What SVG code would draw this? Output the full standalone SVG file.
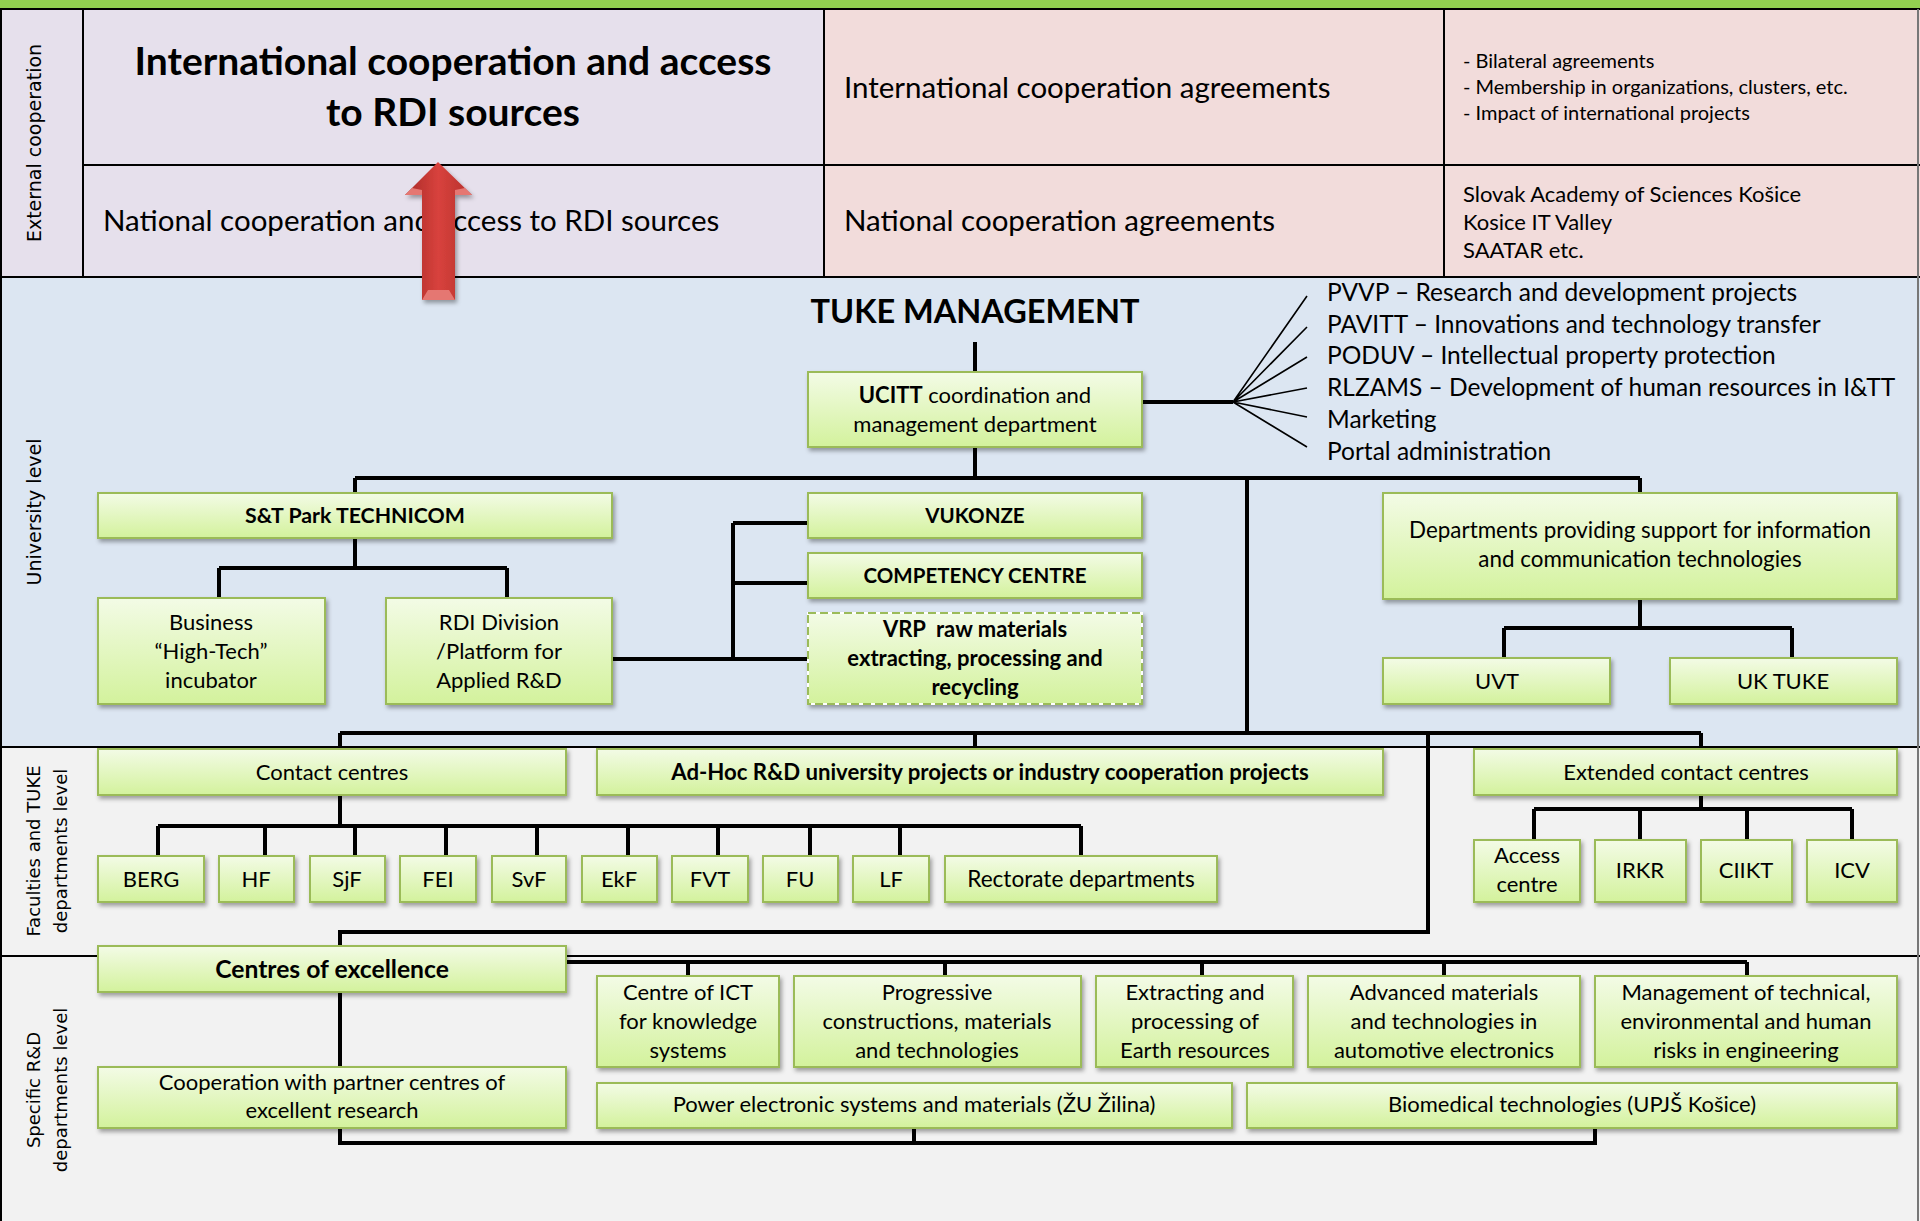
<svg xmlns="http://www.w3.org/2000/svg" width="1920" height="1221" viewBox="0 0 1920 1221">
<defs>
<style>
.t{font-family:Lato,"Open Sans","Liberation Sans",sans-serif;fill:#000}
.b{font-weight:bold}
.m{text-anchor:middle}
.r{font-size:22px}
.lab{font-family:"DejaVu Sans",Verdana,sans-serif;font-size:19px;text-anchor:middle;fill:#000}
.lab2{font-size:18px}
.bx{fill:url(#g);stroke:#9BBB59;stroke-width:2;filter:url(#sh)}
.c{fill:none;stroke:#000;stroke-width:4}
.f{fill:none;stroke:#000;stroke-width:1.6}
.sec{stroke:#000;stroke-width:2}
</style>
<linearGradient id="g" x1="0" y1="0" x2="0" y2="1">
<stop offset="0" stop-color="#F3FBE6"/>
<stop offset="1" stop-color="#D3F29C"/>
</linearGradient>
<linearGradient id="ar" x1="0" y1="0" x2="1" y2="0">
<stop offset="0" stop-color="#A92B28"/>
<stop offset="0.5" stop-color="#D8423D"/>
<stop offset="1" stop-color="#B5302C"/>
</linearGradient>
<filter id="sh" x="-10%" y="-10%" width="120%" height="130%">
<feDropShadow dx="2" dy="3" stdDeviation="2" flood-color="#000" flood-opacity="0.35"/>
</filter>
</defs>

<g id="background">
<rect x="0" y="0" width="1920" height="9" fill="#92D050"/>
<rect x="0" y="9" width="824" height="268" fill="#E6E0EC"/>
<rect x="824" y="9" width="1096" height="268" fill="#F2DCDB"/>
<rect x="0" y="277" width="1920" height="470" fill="#DCE6F2"/>
<rect x="0" y="747" width="1920" height="209" fill="#F2F2F2"/>
<rect x="0" y="956" width="1920" height="265" fill="#F2F2F2"/>
<line class="sec" x1="0" y1="9" x2="1920" y2="9"/>
<line class="sec" x1="83" y1="165" x2="1920" y2="165"/>
<line class="sec" x1="0" y1="277" x2="1920" y2="277" stroke-width="3"/>
<line class="sec" x1="0" y1="747" x2="1920" y2="747"/>
<line class="sec" x1="0" y1="956" x2="1920" y2="956"/>
<line class="sec" x1="83" y1="9" x2="83" y2="277"/>
<line class="sec" x1="824" y1="9" x2="824" y2="277"/>
<line class="sec" x1="1444" y1="9" x2="1444" y2="277"/>
<line class="sec" x1="1" y1="9" x2="1" y2="1221"/>
<line x1="1918" y1="9" x2="1918" y2="1221" stroke="#777" stroke-width="2"/>
</g>

<g id="section-labels">
<text class="lab" transform="translate(41,143) rotate(-90)">External cooperation</text>
<text class="lab" transform="translate(41,512) rotate(-90)">University level</text>
<text class="lab lab2" transform="translate(40,851) rotate(-90)">Faculties and TUKE</text>
<text class="lab lab2" transform="translate(67,851) rotate(-90)">departments level</text>
<text class="lab lab2" transform="translate(40,1090) rotate(-90)">Specific R&amp;D</text>
<text class="lab lab2" transform="translate(67,1090) rotate(-90)">departments level</text>
</g>

<g id="external-cooperation">
<text class="t b m" x="453" y="75" font-size="39">International cooperation and access</text>
<text class="t b m" x="453" y="126" font-size="39">to RDI sources</text>
<text class="t" x="103" y="231" font-size="29.5">National cooperation and access to RDI sources</text>
<text class="t" x="844" y="98" font-size="29.5">International cooperation agreements</text>
<text class="t" x="844" y="231" font-size="29.5">National cooperation agreements</text>
<text class="t" x="1463" y="68" font-size="20">- Bilateral agreements</text>
<text class="t" x="1463" y="94" font-size="20">- Membership in organizations, clusters, etc.</text>
<text class="t" x="1463" y="120" font-size="20">- Impact of international projects</text>
<text class="t" x="1463" y="202" font-size="22">Slovak Academy of Sciences Košice</text>
<text class="t" x="1463" y="230" font-size="22">Kosice IT Valley</text>
<text class="t" x="1463" y="258" font-size="22">SAATAR etc.</text>
</g>

<g id="arrow" filter="url(#sh)">
<polygon points="438,162 472,195 455,195 455,300 422,300 422,195 405,195" fill="url(#ar)"/>
<polygon points="422,300 455,300 449,290 428,290" fill="#E57772"/>
<polygon points="405,195 422,195 422,190 412,188" fill="#E57772"/>
<polygon points="472,195 455,195 455,190 465,188" fill="#E57772"/>
</g>

<g id="connectors">
<path class="c" d="M975 342V372M975 447V478M355 478H1640M355 478V493M1640 478V493M1247 478V733"/>
<path class="c" d="M355 538V568M219 568H507M219 568V598M507 568V598"/>
<path class="c" d="M612 659H808M733 523V659M733 523H808M733 583H808"/>
<path class="c" d="M1640 599V628M1504 628H1792M1504 628V658M1792 628V658"/>
<path class="c" d="M1142 402H1233" stroke-width="5"/>
<path class="f" d="M1233 402L1307 296M1233 402L1307 327M1233 402L1307 357M1233 402L1307 388M1233 402L1307 417M1233 402L1307 447"/>
<path class="c" d="M340 733H1701M340 733V749M975 733V749M1701 733V749M1428 733V932H340V946"/>
<path class="c" d="M340 795V826M158 826H1081M158 826V856M265 826V856M355 826V856M446 826V856M537 826V856M628 826V856M718 826V856M810 826V856M900 826V856M1081 826V856"/>
<path class="c" d="M1701 795V809M1534 809H1852M1534 809V840M1640 809V840M1747 809V840M1852 809V840"/>
<path class="c" d="M566 962H1747M688 962V976M945 962V976M1202 962V976M1444 962V976M1747 962V976M340 992V1067"/>
<path class="c" d="M340 1128V1143H1595V1128M914 1128V1143"/>
</g>

<g id="tuke-management">
<text class="t b m" x="975" y="323" font-size="32.5">TUKE MANAGEMENT</text>
</g>

<g id="fan-labels">
<text class="t" x="1327" y="301" font-size="24.5">PVVP – Research and development projects</text>
<text class="t" x="1327" y="333" font-size="24.5">PAVITT – Innovations and technology transfer</text>
<text class="t" x="1327" y="364" font-size="24.5">PODUV – Intellectual property protection</text>
<text class="t" x="1327" y="396" font-size="24.5">RLZAMS – Development of human resources in I&amp;TT</text>
<text class="t" x="1327" y="428" font-size="24.5">Marketing</text>
<text class="t" x="1327" y="460" font-size="24.5">Portal administration</text>
</g>

<g id="ucitt">
<rect class="bx" x="808" y="372" width="334" height="75"/>
<text class="t m r" x="975" y="403"><tspan class="b">UCITT</tspan> coordination and</text>
<text class="t m r" x="975" y="432">management department</text>
</g>

<g id="technicom">
<rect class="bx" x="98" y="493" width="514" height="45"/>
<text class="t b m" x="355" y="523" font-size="21.3">S&amp;T Park TECHNICOM</text>
</g>
<g id="incubator">
<rect class="bx" x="98" y="598" width="227" height="106"/>
<text class="t m r" x="211" y="630">Business</text>
<text class="t m r" x="211" y="659">“High-Tech”</text>
<text class="t m r" x="211" y="688">incubator</text>
</g>
<g id="rdi-division">
<rect class="bx" x="386" y="598" width="226" height="106"/>
<text class="t m r" x="499" y="630">RDI Division</text>
<text class="t m r" x="499" y="659">/Platform for</text>
<text class="t m r" x="499" y="688">Applied R&amp;D</text>
</g>
<g id="vukonze">
<rect class="bx" x="808" y="493" width="334" height="45"/>
<text class="t b m" x="975" y="523" font-size="20.5">VUKONZE</text>
</g>
<g id="competency">
<rect class="bx" x="808" y="553" width="334" height="45"/>
<text class="t b m" x="975" y="583" font-size="20.5">COMPETENCY CENTRE</text>
</g>
<g id="vrp">
<rect x="808" y="613" width="334" height="91" fill="url(#g)" stroke="#fff" stroke-width="2" filter="url(#sh)"/>
<rect x="808" y="613" width="334" height="91" fill="none" stroke="#9BBB59" stroke-width="2" stroke-dasharray="8 4"/>
<text class="t b m" x="975" y="637" font-size="22" xml:space="preserve">VRP  raw materials</text>
<text class="t b m" x="975" y="666" font-size="22">extracting, processing and</text>
<text class="t b m" x="975" y="695" font-size="22">recycling</text>
</g>
<g id="ict-departments">
<rect class="bx" x="1383" y="493" width="514" height="106"/>
<text class="t m" x="1640" y="538" font-size="22.4">Departments providing support for information</text>
<text class="t m" x="1640" y="567" font-size="22.4">and communication technologies</text>
</g>
<g id="uvt">
<rect class="bx" x="1383" y="658" width="227" height="46"/>
<text class="t m r" x="1497" y="689">UVT</text>
</g>
<g id="uk-tuke">
<rect class="bx" x="1670" y="658" width="227" height="46"/>
<text class="t m r" x="1783" y="689">UK TUKE</text>
</g>

<g id="contact-centres">
<rect class="bx" x="98" y="749" width="468" height="46"/>
<text class="t m r" x="332" y="780">Contact centres</text>
</g>
<g id="adhoc">
<rect class="bx" x="597" y="749" width="786" height="46"/>
<text class="t b m" x="990" y="780" font-size="22.2">Ad-Hoc R&amp;D university projects or industry cooperation projects</text>
</g>
<g id="extended-contact-centres">
<rect class="bx" x="1474" y="749" width="423" height="46"/>
<text class="t m r" x="1686" y="780">Extended contact centres</text>
</g>

<g id="berg"><rect class="bx" x="98" y="856" width="106" height="46"/><text class="t m r" x="151" y="887">BERG</text></g>
<g id="hf"><rect class="bx" x="219" y="856" width="75" height="46"/><text class="t m r" x="256" y="887">HF</text></g>
<g id="sjf"><rect class="bx" x="310" y="856" width="75" height="46"/><text class="t m r" x="347" y="887">SjF</text></g>
<g id="fei"><rect class="bx" x="400" y="856" width="76" height="46"/><text class="t m r" x="438" y="887">FEI</text></g>
<g id="svf"><rect class="bx" x="492" y="856" width="74" height="46"/><text class="t m r" x="529" y="887">SvF</text></g>
<g id="ekf"><rect class="bx" x="582" y="856" width="75" height="46"/><text class="t m r" x="619" y="887">EkF</text></g>
<g id="fvt"><rect class="bx" x="672" y="856" width="76" height="46"/><text class="t m r" x="710" y="887">FVT</text></g>
<g id="fu"><rect class="bx" x="763" y="856" width="75" height="46"/><text class="t m r" x="800" y="887">FU</text></g>
<g id="lf"><rect class="bx" x="853" y="856" width="76" height="46"/><text class="t m r" x="891" y="887">LF</text></g>
<g id="rectorate"><rect class="bx" x="945" y="856" width="272" height="46"/><text class="t m" x="1081" y="887" font-size="22.6">Rectorate departments</text></g>

<g id="access-centre"><rect class="bx" x="1474" y="840" width="106" height="62"/><text class="t m r" x="1527" y="863">Access</text><text class="t m r" x="1527" y="892">centre</text></g>
<g id="irkr"><rect class="bx" x="1595" y="840" width="91" height="62"/><text class="t m r" x="1640" y="878">IRKR</text></g>
<g id="ciikt"><rect class="bx" x="1701" y="840" width="91" height="62"/><text class="t m r" x="1746" y="878">CIIKT</text></g>
<g id="icv"><rect class="bx" x="1807" y="840" width="90" height="62"/><text class="t m r" x="1852" y="878">ICV</text></g>

<g id="centres-of-excellence">
<rect class="bx" x="98" y="946" width="468" height="46"/>
<text class="t b m" x="332" y="978" font-size="24.7">Centres of excellence</text>
</g>
<g id="cooperation-partner">
<rect class="bx" x="98" y="1067" width="468" height="61"/>
<text class="t m r" x="332" y="1090">Cooperation with partner centres of</text>
<text class="t m r" x="332" y="1118">excellent research</text>
</g>
<g id="ict-knowledge">
<rect class="bx" x="597" y="976" width="182" height="91"/>
<text class="t m r" x="688" y="1000">Centre of ICT</text>
<text class="t m r" x="688" y="1029">for knowledge</text>
<text class="t m r" x="688" y="1058">systems</text>
</g>
<g id="progressive">
<rect class="bx" x="794" y="976" width="287" height="91"/>
<text class="t m r" x="937" y="1000">Progressive</text>
<text class="t m r" x="937" y="1029">constructions, materials</text>
<text class="t m r" x="937" y="1058">and technologies</text>
</g>
<g id="extracting">
<rect class="bx" x="1096" y="976" width="197" height="91"/>
<text class="t m r" x="1195" y="1000">Extracting and</text>
<text class="t m r" x="1195" y="1029">processing of</text>
<text class="t m r" x="1195" y="1058">Earth resources</text>
</g>
<g id="advanced-materials">
<rect class="bx" x="1308" y="976" width="272" height="91"/>
<text class="t m r" x="1444" y="1000">Advanced materials</text>
<text class="t m r" x="1444" y="1029">and technologies in</text>
<text class="t m r" x="1444" y="1058">automotive electronics</text>
</g>
<g id="risk-management">
<rect class="bx" x="1595" y="976" width="302" height="91"/>
<text class="t m r" x="1746" y="1000">Management of technical,</text>
<text class="t m r" x="1746" y="1029">environmental and human</text>
<text class="t m r" x="1746" y="1058">risks in engineering</text>
</g>
<g id="power-electronic">
<rect class="bx" x="597" y="1083" width="635" height="45"/>
<text class="t m r" x="914" y="1112">Power electronic systems and materials (ŽU Žilina)</text>
</g>
<g id="biomedical">
<rect class="bx" x="1247" y="1083" width="650" height="45"/>
<text class="t m r" x="1572" y="1112">Biomedical technologies (UPJŠ Košice)</text>
</g>
</svg>
